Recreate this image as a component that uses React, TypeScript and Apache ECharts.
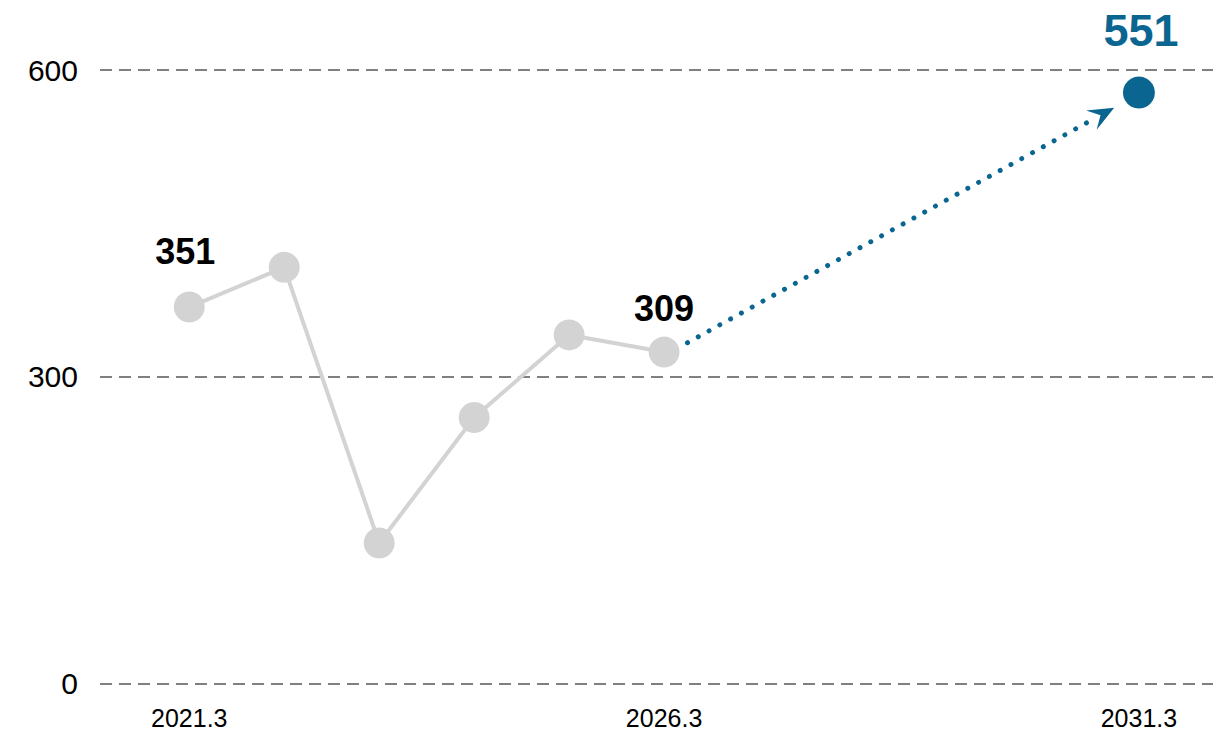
import React, { useEffect, useRef } from "react";
import * as echarts from "echarts";

// Data
const years = [2021, 2022, 2023, 2024, 2025, 2026];
const values = [351, 388, 131, 248, 325, 309];
const forecastYear = 2031;
const forecastValue = 551;
const xTickYears = [2021, 2026, 2031];
const yTicks = [0, 300, 600];

const GRAY = "#d3d3d3";
const BLUE = "#0a6590";
const FONT = "Arial, 'Liberation Sans', sans-serif";

export default function App() {
  const ref = useRef<HTMLDivElement>(null);
  useEffect(() => {
    if (!ref.current) return;
    const chart = echarts.init(ref.current, null, { renderer: "svg" });
    const lastIdx = years.length - 1;
    const grayData = years.map((y, i) => {
      const item: any = { value: [y, values[i]] };
      if (i === 0) {
        item.label = { show: true, distance: 22, offset: [-4, 0] };
      } else if (i === lastIdx) {
        item.label = { show: true, distance: 10 };
      }
      return item;
    });
    chart.setOption({
      animation: false,
      grid: { left: 100, right: 12, top: 70, bottom: 50.5, containLabel: false },
      xAxis: {
        type: "value",
        min: 2020.06,
        max: 2031.78,
        axisLine: { show: false },
        axisTick: { show: false },
        splitLine: { show: false },
        axisLabel: {
          customValues: xTickYears,
          formatter: (v: number) => `${v}.3`,
          fontSize: 25,
          color: "#000",
          fontFamily: FONT,
          margin: 22,
        },
      },
      yAxis: [
        {
          type: "value",
          min: yTicks[0],
          max: yTicks[yTicks.length - 1],
          interval: 300,
          axisLine: { show: false },
          axisTick: { show: false },
          axisLabel: { fontSize: 30, color: "#000", fontFamily: FONT, margin: 22 },
          splitLine: { lineStyle: { color: "#808080", width: 2, type: [12, 7] } },
        },
        {
          type: "value",
          min: 0,
          max: 572,
          show: false,
          splitLine: { show: false },
        },
      ],
      series: [
        {
          type: "line",
          yAxisIndex: 1,
          data: grayData,
          symbol: "circle",
          symbolSize: 31,
          lineStyle: { color: GRAY, width: 4 },
          itemStyle: { color: GRAY },
          label: {
            show: false,
            position: "top",
            formatter: (p: any) => `${p.value[1]}`,
            fontSize: 36,
            fontWeight: "bold",
            color: "#000",
            fontFamily: FONT,
          },
          z: 2,
        },
        {
          type: "custom",
          yAxisIndex: 1,
          data: [[years[lastIdx], values[lastIdx], forecastYear, forecastValue]],
          renderItem: (params: any, api: any) => {
            const p0 = api.coord([api.value(0), api.value(1)]);
            const p1 = api.coord([api.value(2), api.value(3)]);
            const dx = p1[0] - p0[0];
            const dy = p1[1] - p0[1];
            const len = Math.sqrt(dx * dx + dy * dy);
            const ux = dx / len;
            const uy = dy / len;
            const nx = -uy;
            const ny = ux;
            const s = [p0[0] + ux * 25 + nx * 3, p0[1] + uy * 25 + ny * 3];
            const tip = [p1[0] - ux * 29 + nx * 1.5, p1[1] - uy * 29 + ny * 1.5];
            const aLen = 26;
            const aW = 11;
            const base = [tip[0] - ux * aLen, tip[1] - uy * aLen];
            const notch = [tip[0] - ux * aLen * 0.6, tip[1] - uy * aLen * 0.6];
            const lineEnd = [tip[0] - ux * aLen * 0.8, tip[1] - uy * aLen * 0.8];
            return {
              type: "group",
              children: [
                {
                  type: "line",
                  shape: { x1: s[0], y1: s[1], x2: lineEnd[0], y2: lineEnd[1] },
                  style: {
                    stroke: BLUE,
                    lineWidth: 5,
                    lineDash: [0.01, 12.3],
                    lineCap: "round",
                  },
                },
                {
                  type: "polygon",
                  shape: {
                    points: [
                      tip,
                      [base[0] + nx * aW, base[1] + ny * aW],
                      notch,
                      [base[0] - nx * aW, base[1] - ny * aW],
                    ],
                  },
                  style: { fill: BLUE },
                },
              ],
            };
          },
          z: 3,
        },
        {
          type: "line",
          yAxisIndex: 1,
          data: [[forecastYear, forecastValue]],
          symbol: "circle",
          symbolSize: 32,
          itemStyle: { color: BLUE },
          label: {
            show: true,
            position: "top",
            distance: 24,
            offset: [2, 0],
            fontSize: 45,
            fontWeight: "bold",
            color: BLUE,
            fontFamily: FONT,
            formatter: (p: any) => `${p.value[1]}`,
          },
          z: 4,
        },
      ],
    });
    return () => chart.dispose();
  }, []);
  return (
    <div
      ref={ref}
      style={{ position: "fixed", left: 0, top: 0, width: 1225, height: 734, background: "#fff" }}
    />
  );
}
